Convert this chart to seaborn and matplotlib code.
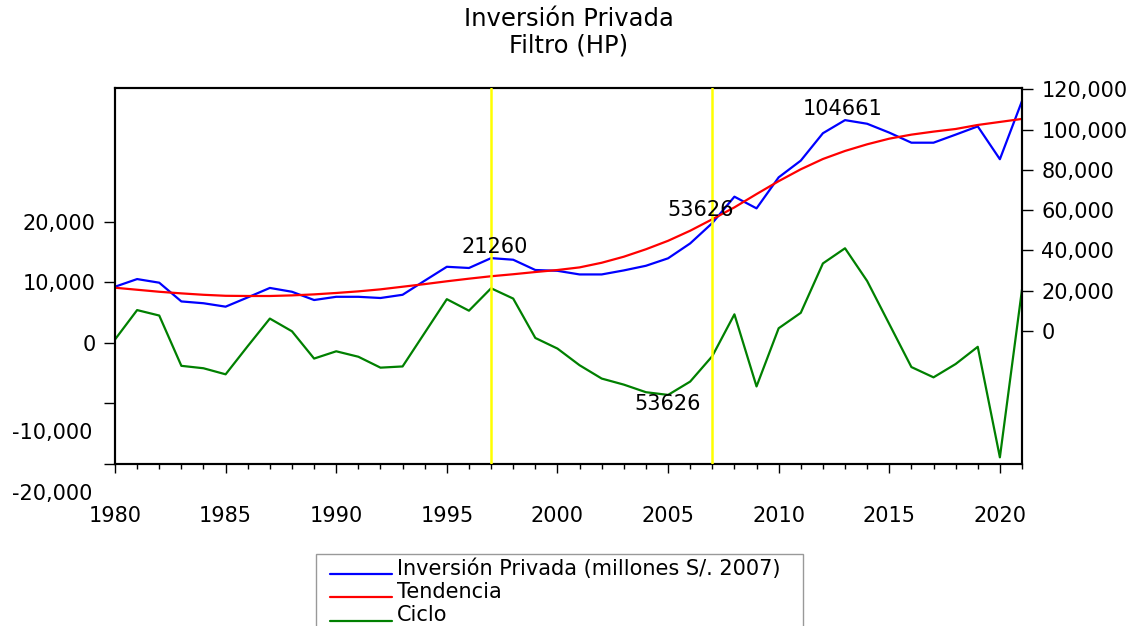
import numpy as np
import pandas as pd
import matplotlib
matplotlib.use("Agg")
import matplotlib.pyplot as plt
import matplotlib.transforms as mtransforms
from matplotlib.ticker import FixedLocator, MultipleLocator, FuncFormatter
from matplotlib.legend_handler import HandlerLine2D
import seaborn as sns

# ---------------- data ----------------
years = list(range(1980, 2022))
inversion = [22000, 25800, 24000, 14700, 13800, 12100, 16700, 21400, 19500, 15400,
             17000, 17000, 16400, 18000, 25000, 31900, 31300, 36200, 35400, 30300,
             29900, 28100, 28100, 30100, 32400, 36100, 43500, 53600, 66700, 60900,
             76300, 84600, 98200, 104700, 102900, 98500, 93500, 93500, 97500, 101600,
             85300, 114200]
tendencia = [21500, 20500, 19500, 18700, 18000, 17500, 17400, 17400, 17700, 18200,
             18900, 19700, 20700, 22000, 23300, 24700, 26000, 27200, 28200, 29300,
             30300, 31600, 33900, 36900, 40600, 44800, 49800, 55500, 61400, 68000,
             74400, 80300, 85400, 89400, 92700, 95500, 97500, 99000, 100300, 102300,
             103800, 105300]
ciclo = [550, 5400, 4500, -3800, -4200, -5200, -550, 4000, 1900, -2600,
         -1400, -2300, -4100, -3900, 1650, 7200, 5300, 9000, 7300, 800,
         -950, -3700, -5900, -6900, -8150, -8600, -6400, -2200, 4700, -7200,
         2400, 4950, 13100, 15600, 10200, 3100, -4000, -5700, -3500, -660,
         -18900, 8800]

series_labels = ["Inversión Privada (millones S/. 2007)", "Tendencia", "Ciclo"]
left_ticks = [-20000, -10000, 0, 10000, 20000]
right_ticks = [0, 20000, 40000, 60000, 80000, 100000, 120000]
marked_years = [1997, 2007]
# (text, year, value, axis)
annotations = [("21260", 1997.16, 41500, "right"),
               ("53626", 2006.46, 60300, "right"),
               ("104661", 2012.9, 110200, "right"),
               ("53626", 2004.99, -10100, "left")]

df = pd.DataFrame({"year": years, "inv": inversion, "tend": tendencia, "ciclo": ciclo})

# ---------------- style ----------------
sns.set_style("white")
plt.rcParams["font.family"] = ["DejaVu Sans"]
plt.rcParams["axes.edgecolor"] = "black"
plt.rcParams["text.color"] = "black"
plt.rcParams["xtick.color"] = "black"
plt.rcParams["ytick.color"] = "black"
plt.rcParams["axes.labelcolor"] = "black"

FS = 15
W, H = 1140, 626
fig = plt.figure(figsize=(W / 100, H / 100), dpi=100)
ax = fig.add_axes([115 / W, 1 - 464 / H, 907 / W, 376 / H])
ax2 = ax.twinx()

sns.lineplot(data=df, x="year", y="ciclo", ax=ax, color="#008000", lw=1.6, legend=False)
sns.lineplot(data=df, x="year", y="inv", ax=ax2, color="#0000FF", lw=1.6, legend=False)
sns.lineplot(data=df, x="year", y="tend", ax=ax2, color="#FF0000", lw=1.6, legend=False)
handles = [ax2.lines[0], ax2.lines[1], ax.lines[0]]

for yr in marked_years:
    ax2.axvline(yr, color="#FFFF00", lw=1.8, zorder=5)

ax.set_xlim(1980, 2021)
ax.set_ylim(-20000, 42050)
ax2.set_ylim(-66000, 120650)

for a in (ax, ax2):
    a.set_xlabel("")
    a.set_ylabel("")
    for sp in a.spines.values():
        sp.set_color("black")
        sp.set_linewidth(1.5)

# x axis
ax.xaxis.set_major_locator(MultipleLocator(5))
ax.xaxis.set_minor_locator(MultipleLocator(1))
ax.xaxis.set_major_formatter(FuncFormatter(lambda v, p: f"{int(round(v))}"))
ax.tick_params(axis="x", which="major", direction="out", length=6.5, width=1.0,
               pad=24, labelsize=FS, colors="black", bottom=True)
ax.tick_params(axis="x", which="minor", direction="out", length=3.5, width=1.0, bottom=True)

# left axis (cycle)
fmt = lambda v: f"{int(v):,}"
ax.yaxis.set_major_locator(FixedLocator(left_ticks))
ax.set_yticklabels([fmt(v) if v >= 0 else "" for v in left_ticks])
ax.tick_params(axis="y", direction="out", length=8, width=1.0, pad=6,
               labelsize=FS, colors="black", left=True, right=False)
off = mtransforms.ScaledTranslation(0, -30 / 100, fig.dpi_scale_trans)
blend = mtransforms.blended_transform_factory(ax.transAxes, ax.transData) + off
for v in left_ticks:
    if v < 0:
        ax.text(-23 / 907, v, fmt(v), transform=blend, ha="right", va="center",
                fontsize=FS, color="black")

# right axis (investment, trend)
ax2.yaxis.set_major_locator(FixedLocator(right_ticks))
ax2.yaxis.set_major_formatter(FuncFormatter(lambda v, p: fmt(v)))
ax2.tick_params(axis="y", direction="out", length=8, width=1.0, pad=6,
                labelsize=FS, colors="black", right=True, left=False)

# annotations
for txt, xv, yv, which in annotations:
    target = ax2 if which == "right" else ax
    target.text(xv, yv, txt, ha="center", va="center", fontsize=FS, color="black", zorder=6)

# title
fig.text(568.5 / W, 1 - 19 / H, "Inversión Privada", ha="center", va="center", fontsize=17.5)
fig.text(568.5 / W, 1 - 46 / H, "Filtro (HP)", ha="center", va="center", fontsize=17.5)


class ShiftedLine(HandlerLine2D):
    def create_artists(self, legend, orig_handle, xdescent, ydescent, width, height,
                       fontsize, trans):
        arts = super().create_artists(legend, orig_handle, xdescent, ydescent, width,
                                      height, fontsize, trans)
        for a in arts:
            xd = np.asarray(a.get_xdata(), float)
            yd = np.asarray(a.get_ydata(), float)
            a.set_xdata(np.linspace(xd[0] + 7.0, xd[-1], len(xd)))
            a.set_ydata(yd - 5.0)
        return arts


leg = fig.legend(handles, series_labels, loc="upper left",
                 bbox_to_anchor=(316 / W, 0, 487 / W, 1 - 554 / H), mode="expand",
                 frameon=True, fancybox=False, shadow=False, fontsize=FS,
                 handlelength=3.45, handletextpad=0.25, labelspacing=0.15,
                 borderpad=0.2, borderaxespad=0,
                 handler_map={matplotlib.lines.Line2D: ShiftedLine()})
leg.get_frame().set_edgecolor("#808080")
leg.get_frame().set_linewidth(1.0)

fig.savefig("out.png", dpi=100)
